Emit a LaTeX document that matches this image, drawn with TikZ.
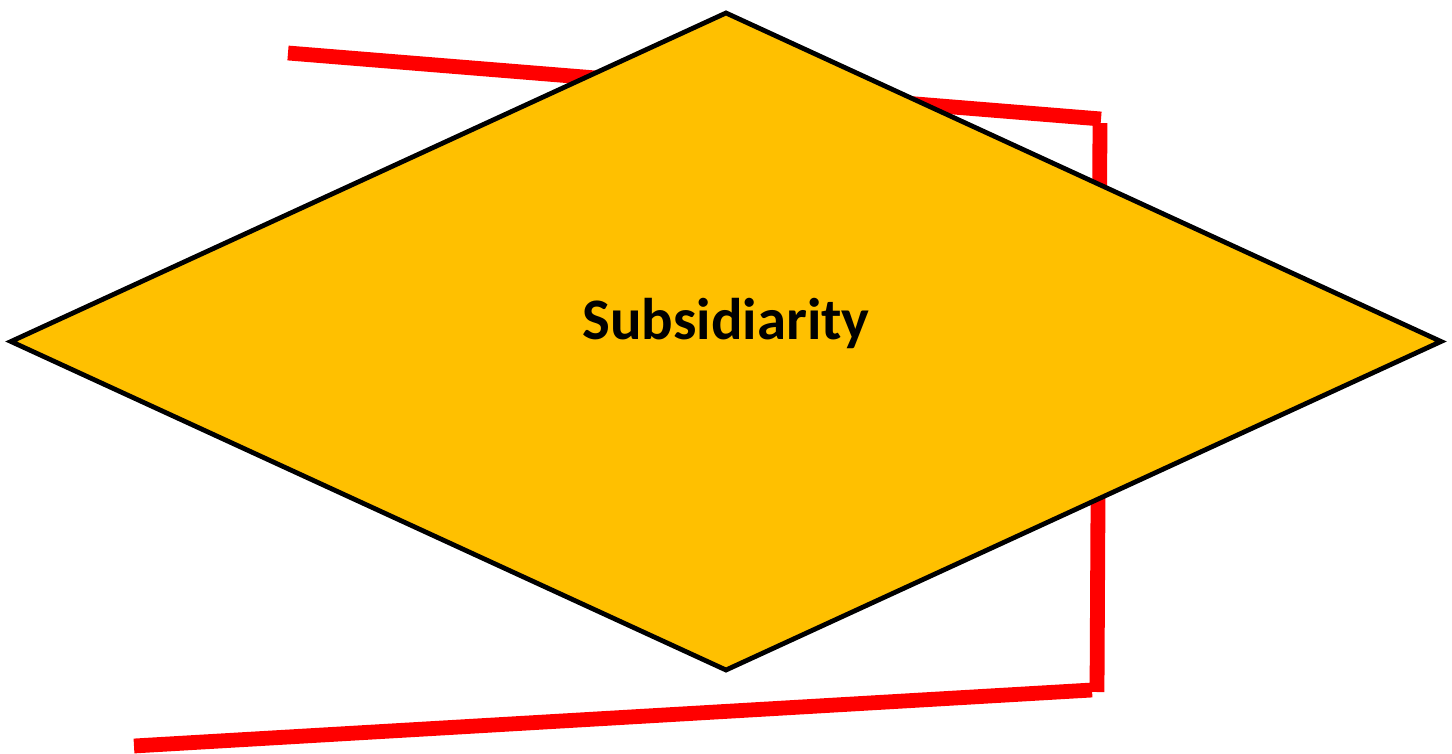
\documentclass[tikz,border=0pt]{standalone}
\usepackage{fontspec}
\setmainfont{Carlito}
\usetikzlibrary{shapes.geometric, positioning}
\definecolor{ambertone}{HTML}{FFC000}

\begin{document}
\begin{tikzpicture}[
  x=0.5pt, y=-0.5pt,
  decision/.style={diamond, draw=black, line width=2.4pt, fill=ambertone,
              minimum width=716pt, minimum height=329.5pt, inner sep=0pt,
              align=center, font=\fontsize{29.4}{34}\selectfont\bfseries,
              text height=21pt, text depth=23pt},
  redline/.style={draw=red, line width=7.4pt, line cap=butt}
]
\useasboundingbox (0,0) rectangle (1452,754);

% Red frame behind
\coordinate (topA) at (288,53);
\coordinate (topB) at (1101,119);
\coordinate (sideA) at (1100,123);
\coordinate (sideB) at (1097,692);
\coordinate (botA) at (1092,690);
\coordinate (botB) at (134,746);

\draw[redline] (topA) -- (topB);
\draw[redline] (sideA) -- (sideB);
\draw[redline] (botA) -- (botB);

% Decision
\node[decision] (subsid) at (726,341.5) {Subsidiarity};
\end{tikzpicture}
\end{document}
